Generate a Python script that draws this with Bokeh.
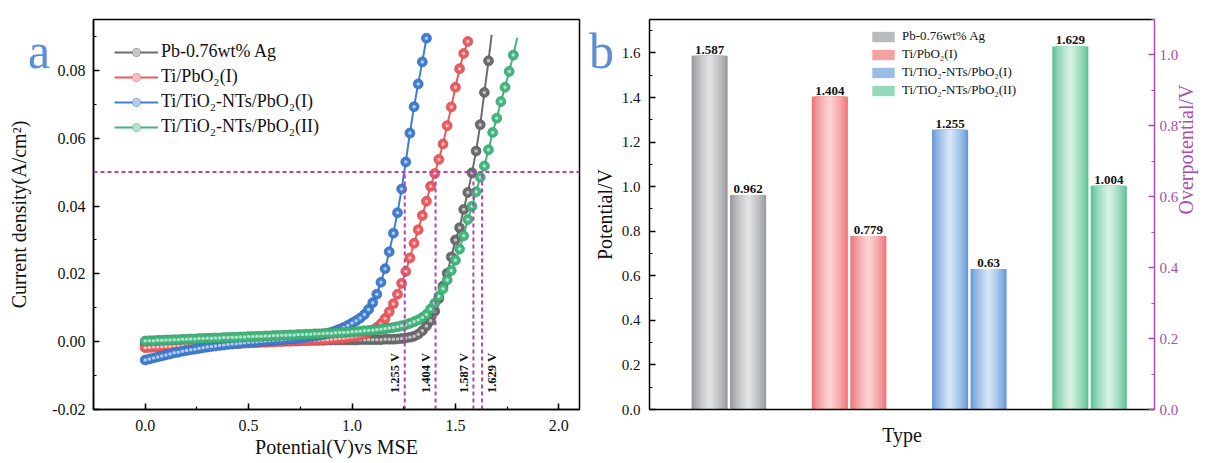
import math
from bokeh.plotting import figure
from bokeh.layouts import row
from bokeh.models import (ColumnDataSource, Range1d, LinearAxis, SingleIntervalTicker, Div,
                          PrintfTickFormatter, Span, Legend, LegendItem, FixedTicker)
from bokeh.core.properties import value
from bokeh.embed import file_html
from bokeh.resources import INLINE

# ---------------- data ----------------
SERIES = ["Pb-0.76wt% Ag", "Ti/PbO\u2082(I)", "Ti/TiO\u2082-NTs/PbO\u2082(I)", "Ti/TiO\u2082-NTs/PbO\u2082(II)"]
PANEL_LETTERS = ["a", "b"]

POTENTIAL = [0.00, 0.02, 0.04, 0.06, 0.08, 0.10, 0.12, 0.14, 0.16, 0.18,
             0.20, 0.22, 0.24, 0.26, 0.28, 0.30, 0.32, 0.34, 0.36, 0.38,
             0.40, 0.42, 0.44, 0.46, 0.48, 0.50, 0.52, 0.54, 0.56, 0.58,
             0.60, 0.62, 0.64, 0.66, 0.68, 0.70, 0.72, 0.74, 0.76, 0.78,
             0.80, 0.82, 0.84, 0.86, 0.88, 0.90, 0.92, 0.94, 0.96, 0.98,
             1.00, 1.02, 1.04, 1.06, 1.08, 1.10, 1.12, 1.14, 1.16, 1.18,
             1.20, 1.22, 1.24, 1.26, 1.28, 1.30, 1.32, 1.34, 1.36, 1.38,
             1.40, 1.42, 1.44, 1.46, 1.48, 1.50, 1.52, 1.54, 1.56, 1.58,
             1.60, 1.62, 1.64, 1.66, 1.68, 1.70, 1.72, 1.74, 1.76, 1.78, 1.80]

CURRENT_PB_AG = [-0.0008, -0.0007, -0.0006, -0.0006, -0.0005, -0.0005, -0.0004, -0.0004, -0.0003, -0.0003,
                 -0.0003, -0.0002, -0.0002, -0.0002, -0.0001, -0.0001, -0.0001, -0.0001, 0.0000, 0.0000,
                 0.0000, 0.0000, 0.0001, 0.0001, 0.0001, 0.0001, 0.0001, 0.0002, 0.0002, 0.0002,
                 0.0002, 0.0002, 0.0003, 0.0003, 0.0003, 0.0003, 0.0003, 0.0003, 0.0004, 0.0004,
                 0.0004, 0.0004, 0.0004, 0.0004, 0.0005, 0.0005, 0.0005, 0.0005, 0.0005, 0.0005,
                 0.0005, 0.0005, 0.0006, 0.0006, 0.0006, 0.0006, 0.0006, 0.0006, 0.0007, 0.0007,
                 0.0007, 0.0008, 0.0009, 0.0011, 0.0013, 0.0016, 0.0022, 0.0032, 0.0046, 0.0062,
                 0.0090, 0.0127, 0.0164, 0.0202, 0.0250, 0.0300, 0.0336, 0.0390, 0.0440, 0.0498,
                 0.0562, 0.0640, 0.0735, 0.0828]

CURRENT_TI_PBO2 = [-0.0018, -0.0017, -0.0016, -0.0016, -0.0015, -0.0014, -0.0014, -0.0013, -0.0012, -0.0012,
                   -0.0011, -0.0011, -0.0010, -0.0010, -0.0009, -0.0009, -0.0008, -0.0008, -0.0007, -0.0007,
                   -0.0006, -0.0006, -0.0005, -0.0005, -0.0004, -0.0004, -0.0003, -0.0003, -0.0002, -0.0002,
                   -0.0001, -0.0001, 0.0000, 0.0000, 0.0001, 0.0001, 0.0002, 0.0002, 0.0003, 0.0003,
                   0.0004, 0.0004, 0.0005, 0.0005, 0.0006, 0.0007, 0.0008, 0.0009, 0.0010, 0.0012,
                   0.0014, 0.0016, 0.0019, 0.0023, 0.0028, 0.0034, 0.0042, 0.0053, 0.0068, 0.0088,
                   0.0112, 0.0140, 0.0172, 0.0207, 0.0247, 0.0290, 0.0330, 0.0372, 0.0414, 0.0458,
                   0.0496, 0.0537, 0.0583, 0.0637, 0.0692, 0.0750, 0.0805, 0.0850, 0.0885]

CURRENT_NTS_I = [-0.0054, -0.0051, -0.0048, -0.0045, -0.0042, -0.0039, -0.0036, -0.0033, -0.0031, -0.0028,
                 -0.0026, -0.0024, -0.0022, -0.0020, -0.0018, -0.0016, -0.0014, -0.0013, -0.0011, -0.0010,
                 -0.0008, -0.0007, -0.0006, -0.0005, -0.0003, -0.0002, -0.0001, 0.0000, 0.0001, 0.0002,
                 0.0003, 0.0004, 0.0005, 0.0006, 0.0007, 0.0008, 0.0009, 0.0010, 0.0012, 0.0013,
                 0.0015, 0.0017, 0.0019, 0.0021, 0.0024, 0.0028, 0.0032, 0.0037, 0.0042, 0.0048,
                 0.0055, 0.0062, 0.0070, 0.0080, 0.0095, 0.0115, 0.0140, 0.0175, 0.0215, 0.0265,
                 0.0320, 0.0380, 0.0450, 0.0530, 0.0615, 0.0693, 0.0760, 0.0825, 0.0895]

CURRENT_NTS_II = [0.0002, 0.0003, 0.0003, 0.0004, 0.0004, 0.0005, 0.0005, 0.0006, 0.0006, 0.0007,
                  0.0007, 0.0008, 0.0008, 0.0009, 0.0009, 0.0010, 0.0010, 0.0011, 0.0011, 0.0012,
                  0.0012, 0.0013, 0.0013, 0.0014, 0.0014, 0.0015, 0.0015, 0.0016, 0.0016, 0.0017,
                  0.0017, 0.0018, 0.0018, 0.0019, 0.0019, 0.0020, 0.0020, 0.0021, 0.0021, 0.0022,
                  0.0022, 0.0023, 0.0023, 0.0024, 0.0025, 0.0025, 0.0026, 0.0027, 0.0027, 0.0028,
                  0.0029, 0.0030, 0.0031, 0.0032, 0.0033, 0.0034, 0.0035, 0.0037, 0.0038, 0.0040,
                  0.0042, 0.0044, 0.0047, 0.0050, 0.0054, 0.0059, 0.0064, 0.0071, 0.0080, 0.0096,
                  0.0113, 0.0134, 0.0156, 0.0182, 0.0210, 0.0240, 0.0273, 0.0312, 0.0360, 0.0399,
                  0.0442, 0.0485, 0.0518, 0.0566, 0.0617, 0.0659, 0.0708, 0.0750, 0.0797, 0.0845]

# end of each measured line beyond its last marker (None: line ends at last marker)
TAIL_POTENTIAL = [1.675, 1.568, None, 1.799]
TAIL_CURRENT = [0.0905, 0.0897, None, 0.0896]

REF_CURRENT = 0.05
ONSET_POTENTIAL = [1.587, 1.404, 1.255, 1.629]
OVERPOTENTIAL = [0.962, 0.779, 0.63, 1.004]

# ---------------- styles ----------------
FONT = "Liberation Serif"
MAG = "#AE44B2"
AXIS_MAG = "#AC4CAE"
LETTER = "#5A8ED6"
LINE_COLORS = ["#6C6C6C", "#EE5A5E", "#3F7ED0", "#42B77D"]
BAR_EDGE = ["#999B9E", "#EF777B", "#6A9AD8", "#5FC397"]
BAR_CENTER = ["#E0E2E4", "#FBD2D2", "#D3E5F6", "#D6F0E4"]


def blend(c1, c2, t):
    a = [int(c1[i:i + 2], 16) for i in (1, 3, 5)]
    b = [int(c2[i:i + 2], 16) for i in (1, 3, 5)]
    return "#%02x%02x%02x" % tuple(int(round(x + (y - x) * t)) for x, y in zip(a, b))


def style_axis(ax, size="16px"):
    ax.axis_line_width = 1.5
    ax.axis_line_color = "black"
    ax.major_tick_in = 6
    ax.major_tick_out = 0
    ax.minor_tick_in = 3
    ax.minor_tick_out = 0
    ax.major_tick_line_width = 1.5
    ax.minor_tick_line_width = 1.2
    ax.major_label_text_font = FONT
    ax.major_label_text_font_size = size
    ax.major_label_text_color = "#111111"
    ax.axis_label_text_font = FONT
    ax.axis_label_text_font_size = "20px"
    ax.axis_label_text_font_style = "normal"
    ax.axis_label_text_color = "#111111"


# ---------------- panel a ----------------
pa = figure(width=590, height=463, x_range=Range1d(-0.25, 2.1), y_range=Range1d(-0.02, 0.095),
            output_backend="svg", toolbar_location=None,
            min_border_left=93, min_border_right=11, min_border_top=17, min_border_bottom=54)
pa.xgrid.visible = False
pa.ygrid.visible = False
pa.outline_line_color = "black"
pa.outline_line_width = 1.5
pa.background_fill_color = "white"
pa.border_fill_color = "white"

pa.xaxis.ticker = SingleIntervalTicker(interval=0.5, num_minor_ticks=2)
pa.xaxis.formatter = PrintfTickFormatter(format="%.1f")
pa.yaxis.ticker = SingleIntervalTicker(interval=0.02, num_minor_ticks=2)
pa.yaxis.formatter = PrintfTickFormatter(format="%.2f")
pa.xaxis.axis_label = "Potential(V)vs MSE"
pa.yaxis.axis_label = "Current density(A/cm\u00b2)"
style_axis(pa.xaxis[0])
style_axis(pa.yaxis[0])
pa.yaxis.major_label_standoff = 8
pa.yaxis.axis_label_standoff = 19
pa.xaxis.major_label_standoff = 10
pa.xaxis.axis_label_standoff = 2

currents = [CURRENT_PB_AG, CURRENT_TI_PBO2, CURRENT_NTS_I, CURRENT_NTS_II]
items_a = []
for name, cur, col, tx, ty in zip(SERIES, currents, LINE_COLORS, TAIL_POTENTIAL, TAIL_CURRENT):
    xs = POTENTIAL[:len(cur)]
    lx, ly = list(xs), list(cur)
    if tx is not None:
        lx.append(tx)
        ly.append(ty)
    rl = pa.line(lx, ly, line_color=col, line_width=2)
    rc = pa.scatter(xs, cur, size=10, fill_color=col, line_color=blend(col, "#000000", 0.2), line_width=0.6)
    rh = pa.scatter(xs, cur, size=3.5, fill_color=blend(col, "#FFFFFF", 0.6), line_color=None)
    items_a.append(LegendItem(label=name, renderers=[rl, rc, rh]))

# reference current and onset potentials
pa.add_layout(Span(location=REF_CURRENT, dimension="width", line_color=MAG, line_width=2, line_dash="4 3"))
pa.segment(x0=ONSET_POTENTIAL, y0=[pa.y_range.start] * 4, x1=ONSET_POTENTIAL, y1=[REF_CURRENT] * 4,
           line_color=MAG, line_width=2, line_dash="4 3")
lab_src = ColumnDataSource(dict(x=ONSET_POTENTIAL, y=[-0.0092] * 4,
                                text=["%s V" % v for v in ONSET_POTENTIAL],
                                off=[-9, -10, -10, 10]))
pa.text(x="x", y="y", text="text", x_offset="off", source=lab_src, angle=math.pi / 2,
        text_align="center", text_baseline="middle", text_font=value(FONT),
        text_font_size="12.5px", text_font_style="bold", text_color="#111111")

leg_a = Legend(items=items_a, location=(21, 272), label_text_font=FONT, label_text_font_size="18px",
               glyph_width=44, glyph_height=20, label_height=20, spacing=4, margin=0, padding=8,
               border_line_color=None, background_fill_alpha=0, label_standoff=3,
               label_text_color="#111111")
pa.add_layout(leg_a)

# ---------------- panel b ----------------
pb = figure(width=621, height=463, x_range=Range1d(0.34, 4.54), y_range=Range1d(0, 1.75),
            output_backend="svg", toolbar_location=None,
            min_border_left=55, min_border_right=54, min_border_top=19, min_border_bottom=50)
pb.xgrid.visible = False
pb.ygrid.visible = False
pb.outline_line_color = None
pb.background_fill_color = "white"
pb.border_fill_color = "white"
pb.extra_y_ranges = {"over": Range1d(0, 1.1)}

pb.yaxis.ticker = SingleIntervalTicker(interval=0.2, num_minor_ticks=2)
pb.yaxis.formatter = PrintfTickFormatter(format="%.1f")
pb.yaxis.axis_label = "Potential/V"
style_axis(pb.yaxis[0], "15px")
pb.yaxis.major_label_standoff = 9
pb.yaxis.axis_label_standoff = 3

pb.xaxis.ticker = FixedTicker(ticks=[])
pb.xaxis.axis_label = "Type"
style_axis(pb.xaxis[0], "15px")
pb.xaxis.major_label_standoff = 0
pb.xaxis.axis_label_standoff = 14

top_ax = LinearAxis(ticker=FixedTicker(ticks=[]), major_label_text_font_size="0px")
top_ax.axis_line_width = 1.5
top_ax.major_label_standoff = 0
pb.add_layout(top_ax, "above")

ax2 = LinearAxis(y_range_name="over", axis_label="Overpotential/V",
                 ticker=SingleIntervalTicker(interval=0.2, num_minor_ticks=2),
                 formatter=PrintfTickFormatter(format="%.1f"))
style_axis(ax2, "15px")
ax2.axis_line_color = AXIS_MAG
ax2.major_tick_line_color = AXIS_MAG
ax2.minor_tick_line_color = AXIS_MAG
ax2.major_label_text_color = AXIS_MAG
ax2.axis_label_text_color = AXIS_MAG
ax2.major_label_standoff = 5
ax2.axis_label_standoff = 5
try:
    ax2.axis_label_orientation = math.pi / 2
except Exception:
    pass
pb.add_layout(ax2, "right")

X_POS = [i + 1 for i in range(len(SERIES))]
N_LAYERS = 9
legend_renderer = None
for vals, off in ((ONSET_POTENTIAL, -0.16), (OVERPOTENTIAL, 0.16)):
    for k in range(N_LAYERS):
        t = (k / (N_LAYERS - 1)) ** 0.8
        cols = [blend(e, c, t) for e, c in zip(BAR_EDGE, BAR_CENTER)]
        src = ColumnDataSource(dict(x=[p + off for p in X_POS], top=vals, color=cols))
        r = pb.vbar(x="x", top="top", bottom=0, width=0.30 * (1 - k / N_LAYERS),
                    fill_color="color", line_color=None, source=src)
        if legend_renderer is None and k == 3:
            legend_renderer = r
    tsrc = ColumnDataSource(dict(x=[p + off for p in X_POS], y=vals, text=[str(v) for v in vals]))
    pb.text(x="x", y="y", text="text", source=tsrc, text_align="center", text_baseline="bottom",
            y_offset=-2, text_font=value(FONT), text_font_size="13px", text_font_style="bold",
            text_color="#111111")

items_b = [LegendItem(label=name, renderers=[legend_renderer], index=i) for i, name in enumerate(SERIES)]
leg_b = Legend(items=items_b, location=(220, 311), label_text_font=FONT, label_text_font_size="13px",
               glyph_width=28, glyph_height=13, label_height=13, spacing=2, margin=0, padding=2,
               border_line_color=None, background_fill_alpha=0, label_standoff=5,
               label_text_color="#111111")
pb.add_layout(leg_b)

# panel letters (placed over the page, outside the plot frames)
letter_pos = [(28, 26), (589, 26)]
letters = []
for txt, (lx, ty) in zip(PANEL_LETTERS, letter_pos):
    letters.append(Div(text=txt, styles={"position": "absolute", "left": "%dpx" % lx, "top": "%dpx" % ty,
                                         "font-family": FONT, "font-size": "50px", "line-height": "1",
                                         "color": LETTER, "z-index": "10", "margin": "0",
                                         "padding": "0"}))

layout = row(pa, pb, *letters)
open("out.html", "w").write(file_html(layout, INLINE))
